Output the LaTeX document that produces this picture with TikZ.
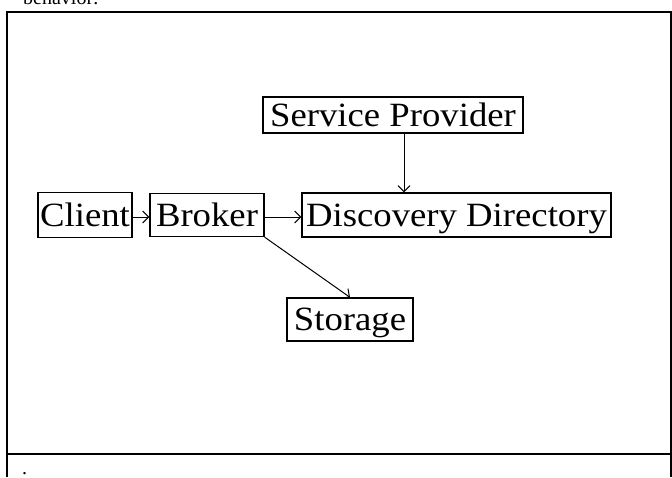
\documentclass[tikz,border=0pt]{standalone}
\usepackage{fontspec}
\setmainfont{Liberation Serif}
\usetikzlibrary{arrows.meta}
\begin{document}
\begin{tikzpicture}[x=1pt,y=-1pt,
  box/.style={draw,line width=1.3pt,inner sep=0pt,text height=24pt,text depth=2pt,font=\fontsize{34}{34}\selectfont},
  conn/.style={line width=1pt,-{Straight Barb[length=6pt,width=12pt]}},
  frame/.style={line width=2pt},
  plain/.style={inner sep=0pt,font=\fontsize{20}{20}\selectfont}]
\useasboundingbox (0,0) rectangle (672,477);
% frame
\draw[frame] (7,477) -- (7,12) -- (670.5,12) -- (670.5,477);
\draw[frame] (7,454) -- (670.5,454);
\node[plain,anchor=base west] (behav) at (23,4.5) {behavior:};
\node[plain,anchor=base west] (dot) at (22,474) {.};
% boxes
\node[box,minimum width=94pt,minimum height=45pt] (client) at (85,215) {\scalebox{1.08}[1]{Client}};
\node[box,minimum width=114pt,minimum height=43pt] (broker) at (207,215) {\scalebox{1.08}[1]{Broker}};
\node[box,minimum width=309pt,minimum height=44pt] (dd) at (456.5,215) {\scalebox{1.08}[1]{Discovery Directory}};
\node[box,minimum width=260pt,minimum height=36pt] (sp) at (393,115) {\scalebox{1.08}[1]{Service Provider}};
\node[box,minimum width=126pt,minimum height=43pt] (storage) at (350,319.5) {\scalebox{1.08}[1]{Storage}};
% connectors
\draw[conn] ([yshift=-2pt]client.east) -- ([yshift=-2pt]broker.west);
\draw[conn] ([yshift=-2pt]broker.east) -- ([yshift=-2pt]dd.west);
\draw[conn] ([xshift=11pt]sp.south) -- ([xshift=11pt]sp.south |- dd.north);
\draw[conn] (broker.south east) -- (storage.north);
\end{tikzpicture}
\end{document}
